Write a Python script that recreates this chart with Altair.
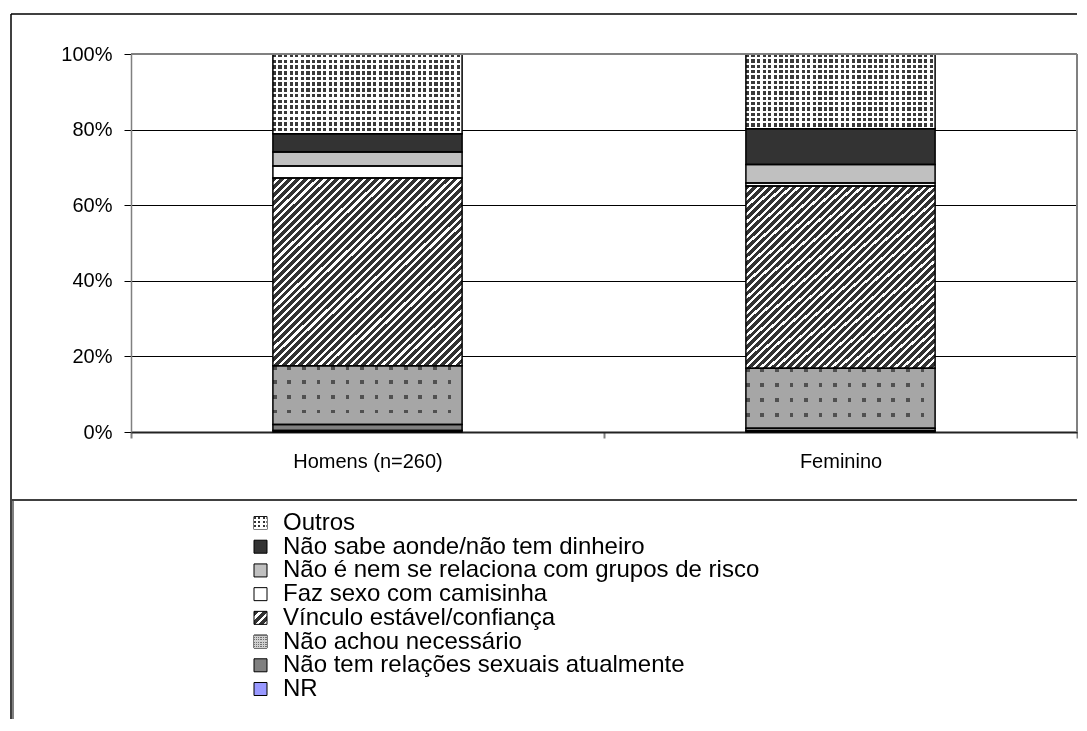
import altair as alt
import numpy as np
import pandas as pd

groups = ["Homens (n=260)", "Feminino"]
categories = [
    "NR",
    "Não tem relações sexuais atualmente",
    "Não achou necessário",
    "Vínculo estável/confiança",
    "Faz sexo com camisinha",
    "Não é nem se relaciona com grupos de risco",
    "Não sabe aonde/não tem dinheiro",
    "Outros",
]
homens = [0.4, 1.6, 15.5, 49.7, 3.2, 3.7, 4.8, 21.1]
feminino = [0.3, 0.7, 15.85, 48.2, 0.85, 4.85, 9.5, 19.75]
legend_order = list(reversed(categories))

rows = []
for g, vals in zip(groups, [homens, feminino]):
    v = np.array(vals)
    cum = np.cumsum(v)
    for c, s, e in zip(categories, cum - v, cum):
        rows.append({"group": g, "cat": c, "start": float(s), "end": float(e)})
df = pd.DataFrame(rows)
leg_df = pd.DataFrame({"cat": legend_order})
one = pd.DataFrame({"a": [0]})


def stripes(n, frac, c1, c2, x2, y2):
    stops = []
    for i in range(n):
        a = round(i / n, 5)
        b = round((i + frac) / n, 5)
        c = round((i + 1) / n, 5)
        stops += [
            {"offset": a, "color": c1},
            {"offset": b, "color": c1},
            {"offset": b, "color": c2},
            {"offset": c, "color": c2},
        ]
    return {"gradient": "linear", "x1": 0, "y1": 0, "x2": x2, "y2": y2, "stops": stops}


solid = {
    "NR": "#9999FF",
    "Não tem relações sexuais atualmente": "#808080",
    "Faz sexo com camisinha": "#FFFFFF",
    "Não é nem se relaciona com grupos de risco": "#C0C0C0",
    "Não sabe aonde/não tem dinheiro": "#333333",
}

FONT = "Liberation Sans"
W, H = 946, 378
AX_FS = 20

x_enc = alt.X(
    "group:N",
    sort=groups,
    scale=alt.Scale(domain=groups, paddingInner=0, paddingOuter=0),
    axis=alt.Axis(
        title=None, labelAngle=0, tickBand="extent", domainColor="#222222",
        domainWidth=2, tickColor="#808080", tickWidth=2, tickSize=6,
        labelPadding=13, labelFontSize=AX_FS, labelFont=FONT, labelColor="black",
        grid=False,
    ),
)
y_axis = alt.Axis(
    values=[0, 20, 40, 60, 80, 100], labelExpr="datum.value + '%'", title=None,
    grid=True, gridColor={"condition": {"test": "datum.value === 100", "value": "#808080"}, "value": "black"},
    gridWidth=1, domainColor="#808080", domainWidth=1.5, tickColor="black",
    tickSize=7, labelPadding=12, labelFont=FONT, labelFontSize=AX_FS, labelColor="black",
)
y_scale = alt.Scale(domain=[0, 100])
BAR_W = alt.RelativeBandSize(0.4)


def bar_layer(cat, fill, blend=None):
    kw = dict(fill=fill, strokeWidth=0, width=BAR_W)
    if blend:
        kw["blend"] = blend
    return (
        alt.Chart(df)
        .transform_filter(alt.datum.cat == cat)
        .mark_bar(**kw)
        .encode(x=x_enc, y=alt.Y("start:Q", scale=y_scale, axis=y_axis), y2="end:Q")
    )


bar_layers = []
for c in categories:
    if c in solid:
        bar_layers.append(bar_layer(c, solid[c]))
    elif c == "Vínculo estável/confiança":
        bar_layers.append(bar_layer(c, stripes(48, 0.6, "#333333", "#FFFFFF", 1, 1)))
    elif c == "Outros":
        bar_layers.append(bar_layer(c, stripes(34, 0.6, "#3a3a3a", "#FFFFFF", 1, 0)))
        bar_layers.append(bar_layer(c, stripes(14, 0.6, "#3a3a3a", "#FFFFFF", 0, 1), "lighten"))
    elif c == "Não achou necessário":
        bar_layers.append(bar_layer(c, stripes(13, 0.25, "#505050", "#A6A6A6", 1, 0)))
        bar_layers.append(bar_layer(c, stripes(4, 0.25, "#505050", "#A6A6A6", 0, 1), "lighten"))

outline = (
    alt.Chart(df)
    .mark_bar(fillOpacity=0, stroke="black", strokeWidth=1.5, width=BAR_W)
    .encode(x=x_enc, y=alt.Y("start:Q", scale=y_scale, axis=y_axis), y2="end:Q")
)
bars = alt.layer(*bar_layers, outline)

leg_y = alt.Y("cat:N", scale=alt.Scale(type="point", domain=legend_order, range=[469, 635], padding=0), axis=None)


def swatch(cat, fill, blend=None):
    kw = dict(fill=fill, size=169, stroke="black", strokeWidth=1, opacity=1)
    if blend:
        kw["blend"] = blend
        kw["strokeWidth"] = 0
    return (
        alt.Chart(leg_df)
        .transform_filter(alt.datum.cat == cat)
        .mark_square(**kw)
        .encode(x=alt.value(129.5), y=leg_y)
    )


sw_layers = []
for c in legend_order:
    if c in solid:
        sw_layers.append(swatch(c, solid[c]))
    elif c == "Vínculo estável/confiança":
        sw_layers.append(swatch(c, stripes(3, 0.6, "#333333", "#FFFFFF", 1, 1)))
    elif c == "Outros":
        sw_layers.append(swatch(c, stripes(3, 0.5, "#333333", "#FFFFFF", 1, 0)))
        sw_layers.append(swatch(c, stripes(3, 0.5, "#333333", "#FFFFFF", 0, 1), "lighten"))
    elif c == "Não achou necessário":
        sw_layers.append(swatch(c, stripes(6, 0.5, "#707070", "#D0D0D0", 1, 0)))
        sw_layers.append(swatch(c, stripes(6, 0.5, "#707070", "#D0D0D0", 0, 1), "lighten"))

leg_text = (
    alt.Chart(leg_df)
    .mark_text(align="left", baseline="middle", font=FONT, fontSize=24, color="black")
    .encode(x=alt.value(152), y=leg_y, text="cat:N")
)
legend = alt.layer(*sw_layers, leg_text)


def rule(x, y, x2=None, y2=None, color="black", width=1.5):
    enc = dict(x=alt.value(x), y=alt.value(y))
    if x2 is not None:
        enc["x2"] = alt.value(x2)
    if y2 is not None:
        enc["y2"] = alt.value(y2)
    return alt.Chart(one).mark_rule(color=color, strokeWidth=width).encode(**enc)


frame = alt.layer(
    rule(-120, -40, x2=946),
    rule(-120, -40, y2=665),
    rule(-119, 446, x2=946),
    rule(-118, 447, y2=665, color="#808080", width=2),
    rule(0, 0, x2=946, color="#808080", width=2),
    rule(946, 0, y2=378, color="#808080", width=2),
)

chart = (
    alt.layer(bars, legend, frame)
    .resolve_scale(y="independent")
    .properties(width=W, height=H, padding={"left": 2, "top": 5, "right": 0, "bottom": 0})
    .configure_view(stroke="#808080", strokeWidth=1)
    .configure(background="white")
)

chart.save("out.html", embed_options={"renderer": "svg", "actions": False})
